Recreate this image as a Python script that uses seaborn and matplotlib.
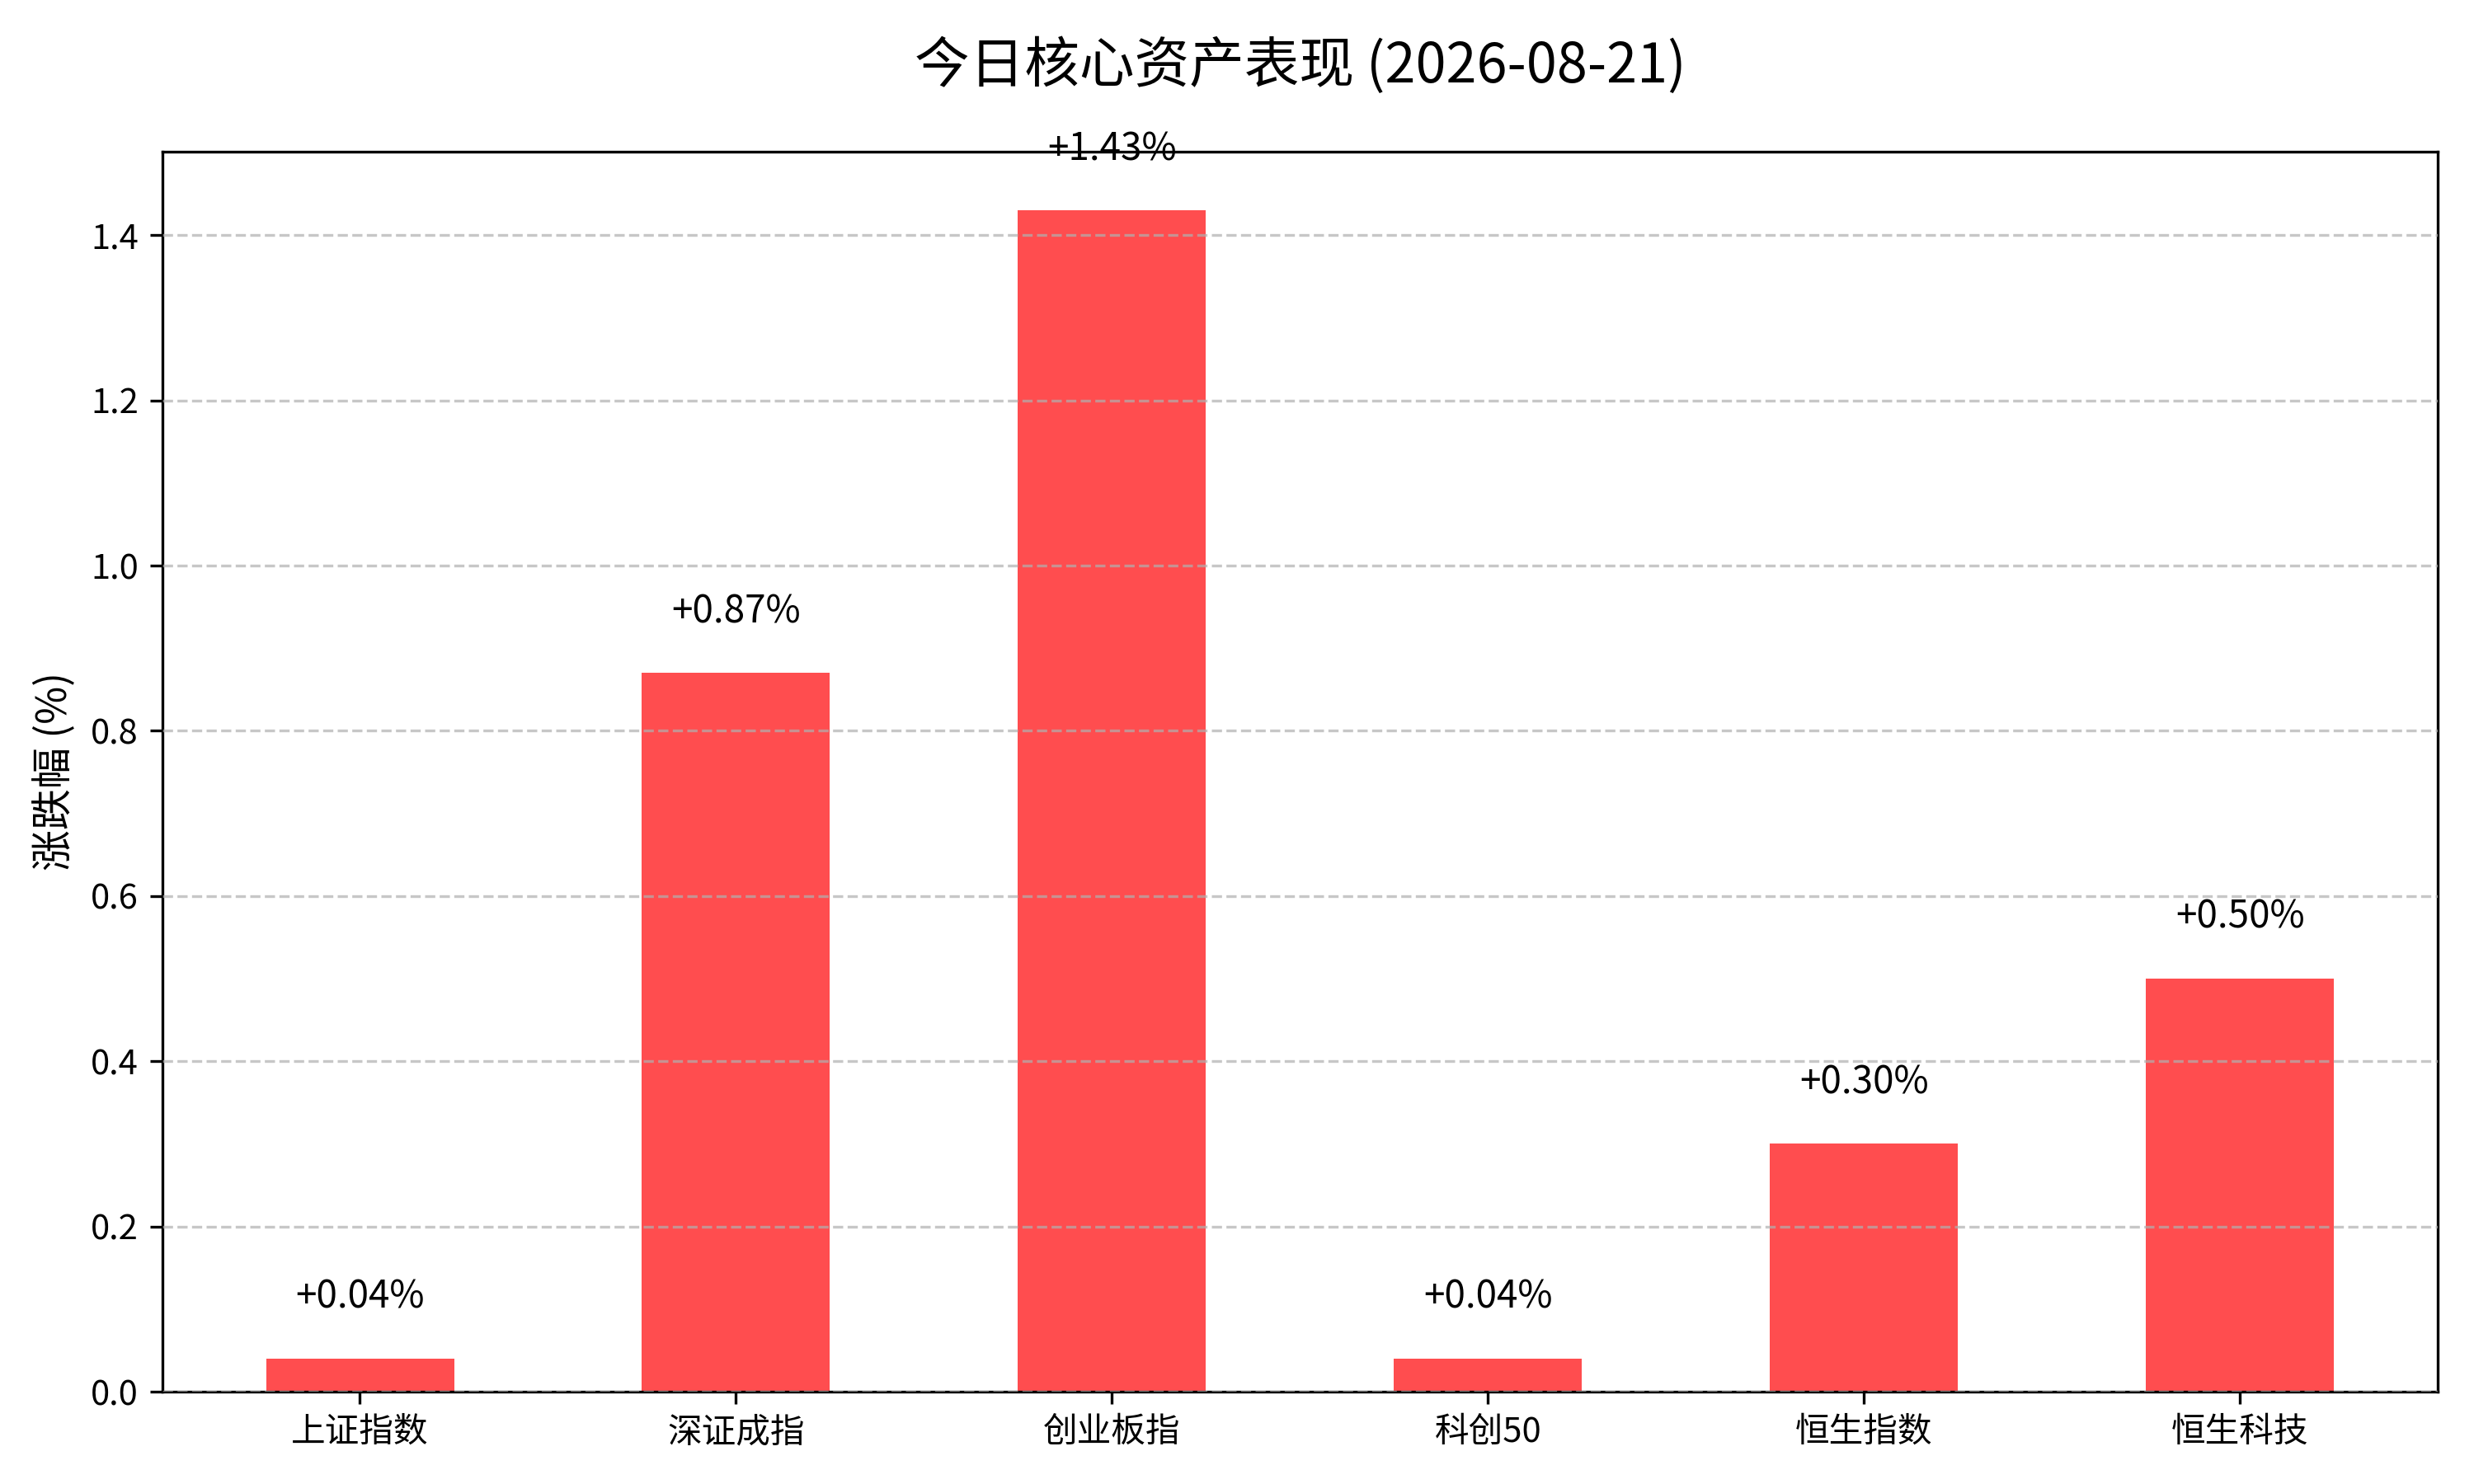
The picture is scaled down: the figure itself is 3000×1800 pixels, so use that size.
import matplotlib
matplotlib.use("Agg")
import matplotlib.pyplot as plt
import seaborn as sns

# 今日核心资产 涨跌幅 (%)
names = ["上证指数", "深证成指", "创业板指", "科创50", "恒生指数", "恒生科技"]
changes = [0.04, 0.87, 1.43, 0.04, 0.30, 0.50]
title = "今日核心资产表现 (2026-08-21)"

plt.rcParams['font.family'] = ['Noto Sans CJK SC', 'DejaVu Sans']

fig, ax = plt.subplots(figsize=(10, 6), dpi=300)

sns.barplot(x=names, y=changes, color="#FF4D4F", width=0.5,
            saturation=1, linewidth=0, ax=ax)

for i, v in enumerate(changes):
    ax.text(i, v + 0.05, f"+{v:.2f}%", ha="center", va="bottom", fontsize=11)

ax.set_xlim(-0.525, len(names) - 1 + 0.525)
ax.set_ylim(0, max(changes) * 1.05)
ax.set_axisbelow(False)
ax.grid(axis="y", linestyle="--", alpha=0.7)
ax.grid(axis="x", visible=False)

ax.set_title(title, fontsize=16, fontweight="medium", pad=20)
ax.set_ylabel("涨跌幅 (%)", fontsize=12)
ax.set_xlabel("")
ax.tick_params(labelsize=10)

plt.subplots_adjust(left=0.0657, right=0.9853, bottom=0.0622, top=0.898)
plt.savefig("out.png", dpi=300)
